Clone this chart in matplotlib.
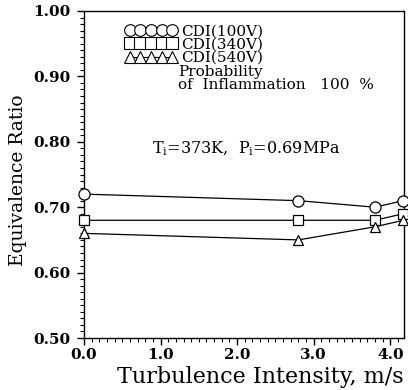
import matplotlib
matplotlib.use("Agg")
import matplotlib.pyplot as plt
from matplotlib.ticker import MultipleLocator, FormatStrFormatter
from matplotlib.lines import Line2D

plt.rcParams['font.family'] = ['DejaVu Serif']
plt.rcParams['mathtext.fontset'] = 'dejavuserif'

# Turbulence intensity (m/s) and equivalence ratio for each discharge voltage
turbulence = [0.0, 2.8, 3.8, 4.17]
phi_100v = [0.72, 0.71, 0.70, 0.71]
phi_340v = [0.68, 0.68, 0.68, 0.69]
phi_540v = [0.66, 0.65, 0.67, 0.68]
series_labels = ['CDI(100V)', 'CDI(340V)', 'CDI(540V)']
x_ticks = [0.0, 1.0, 2.0, 3.0, 4.0]
y_ticks = [0.50, 0.60, 0.70, 0.80, 0.90, 1.00]

fig = plt.figure(figsize=(4.08, 3.90), dpi=100)
ax = fig.add_axes([84 / 408, 1 - 338 / 390, 320 / 408, 327 / 390])

styles = [('o', 8.0), ('s', 7.0), ('^', 7.5)]
for yv, (m, ms) in zip([phi_100v, phi_340v, phi_540v], styles):
    ax.plot(turbulence, yv, color='black', lw=0.9, marker=m, ms=ms,
            mfc='white', mec='black', mew=0.9, clip_on=False, zorder=3)

ax.set_xlim(0.0, 4.18)
ax.set_ylim(0.50, 1.00)
ax.set_xticks(x_ticks)
ax.set_yticks(y_ticks)
ax.xaxis.set_major_formatter(FormatStrFormatter('%.1f'))
ax.yaxis.set_major_formatter(FormatStrFormatter('%.2f'))
ax.xaxis.set_minor_locator(MultipleLocator(0.1))
ax.yaxis.set_minor_locator(MultipleLocator(0.01))
ax.tick_params(which='major', direction='out', length=5, width=1.0,
               labelsize=11)
ax.tick_params(axis='y', which='major', pad=5)
ax.tick_params(axis='x', which='major', pad=2)
ax.tick_params(which='minor', direction='out', length=3, width=0.8)
ax.tick_params(top=False, right=False)
for lbl in ax.get_xticklabels() + ax.get_yticklabels():
    lbl.set_fontweight('bold')
for s in ax.spines.values():
    s.set_linewidth(1.0)

ax.set_xlabel('Turbulence Intensity, m/s', fontsize=16)
ax.xaxis.label.set_horizontalalignment('right')
ax.xaxis.label.set_verticalalignment('baseline')
ax.xaxis.set_label_coords(1.0, -0.138)
ax.set_ylabel('Equivalence Ratio', fontsize=13.5)
ax.yaxis.label.set_verticalalignment('center')
ax.yaxis.set_label_coords(-0.206, 0.483)

handles = [Line2D([], [], color='black', lw=0.8, marker=m, ms=8.4,
                  mfc='white', mec='black', mew=0.8) for m, ms in styles]
leg = ax.legend(handles, series_labels, loc='upper left',
                bbox_to_anchor=(0.128, 0.959), numpoints=5, handlelength=3.4,
                handletextpad=0.25, labelspacing=-0.05, frameon=False,
                borderpad=0, borderaxespad=0, prop={'size': 11})
ax.text(0.295, 0.761, 'Probability\nof  Inflammation   100  %',
        transform=ax.transAxes, fontsize=11, va='baseline', ha='left',
        linespacing=0.95, multialignment='left')
ax.text(0.2125, 0.566, r'T$_\mathrm{i}$=373K,  P$_\mathrm{i}$=0.69MPa',
        transform=ax.transAxes, fontsize=11.5, va='baseline', ha='left')

fig.savefig('out.png', dpi=100)
